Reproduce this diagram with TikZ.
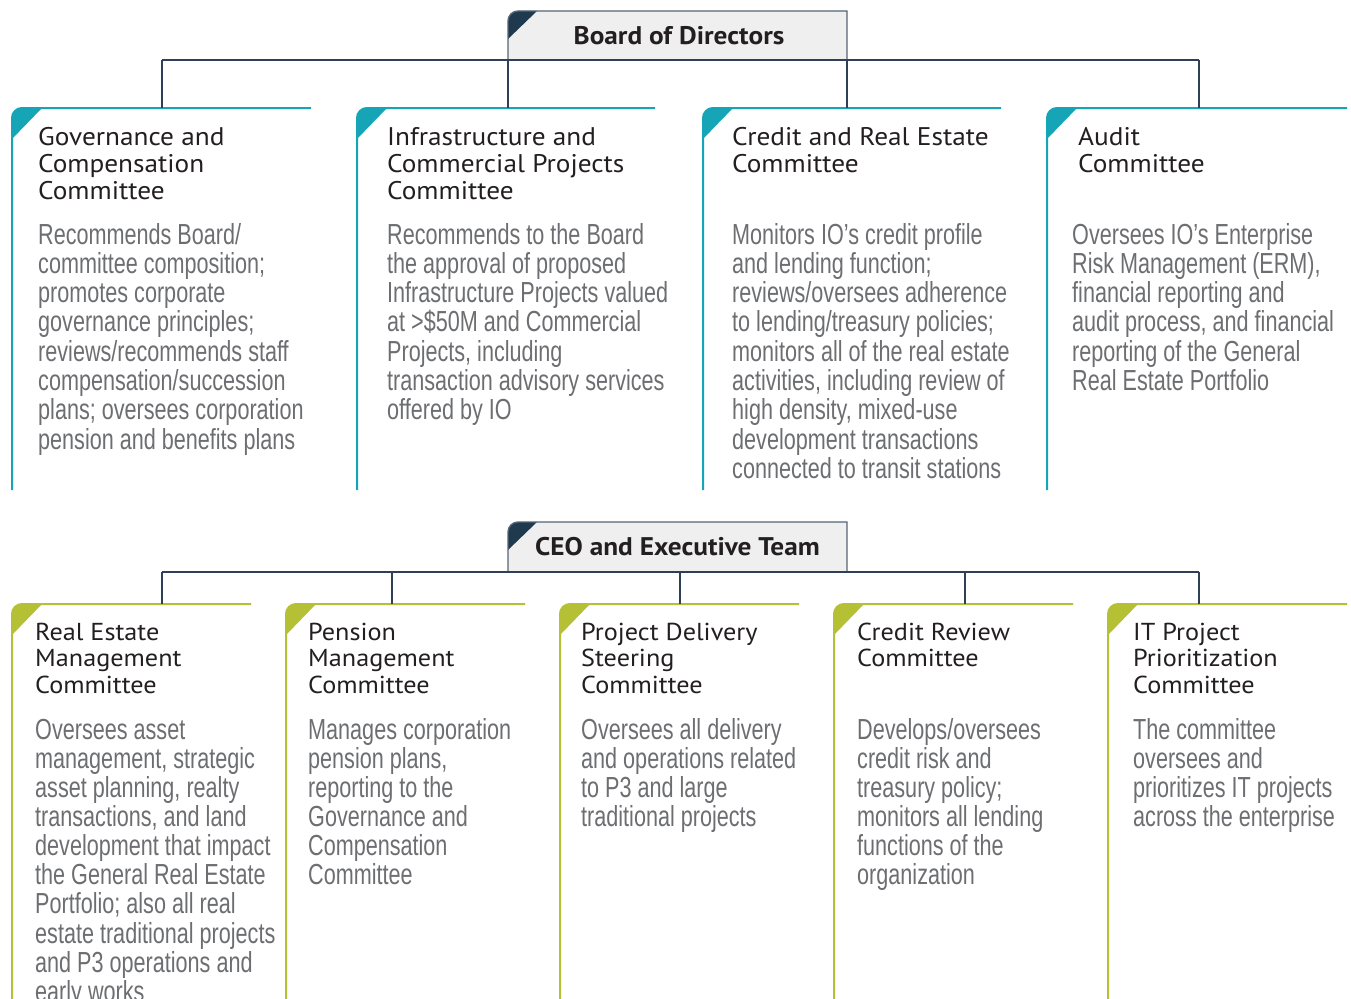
\documentclass[tikz,border=0pt]{standalone}
\usepackage{fontspec}
\newfontfamily\titlefont[FakeStretch=1.07]{PT Sans}
\newfontfamily\bodyfont[FakeStretch=0.745]{Liberation Sans}
\definecolor{tealc}{HTML}{16A5B7}
\definecolor{olivec}{HTML}{B5C034}
\definecolor{navyc}{HTML}{1F3A4F}
\definecolor{connc}{HTML}{2E4057}
\definecolor{hdrline}{HTML}{566676}
\definecolor{hdrfill}{HTML}{EFEFEF}
\definecolor{titlec}{HTML}{231F20}
\definecolor{bodyc}{HTML}{6D6E71}
\newcommand{\mylines}[1]{\parbox[t]{420pt}{\raggedright #1}}
\newcommand{\combox}[5]{%
  \fill[#1] (#2,#3+31) [rounded corners=10] -- (#2,#3) [sharp corners] -- (#2+30,#3) -- cycle;
  \draw[#1, line width=2] (#2,#5) [rounded corners=10] -- (#2,#3) [sharp corners] -- (#4,#3);
}
\newcommand{\hdrbox}[4]{%
  \path[fill=hdrfill] (#1,#4) [rounded corners=10] -- (#1,#2) [sharp corners] -- (#3,#2) -- (#3,#4) -- cycle;
  \fill[navyc] (#1,#2+28) [rounded corners=10] -- (#1,#2) [sharp corners] -- (#1+29,#2) -- cycle;
  \draw[hdrline, line width=1.4] (#1,#4) [rounded corners=10] -- (#1,#2) [sharp corners] -- (#3,#2) -- (#3,#4);
}
\tikzset{
  conn/.style={draw=connc, line width=1.4},
  hdrtext/.style={inner sep=0, text=titlec, font={\titlefont\bfseries\fontsize{25.5}{27}\selectfont}},
  titleA/.style={anchor=base west, inner sep=0, text=titlec, font={\titlefont\fontsize{25.5}{27}\selectfont}},
  titleB/.style={anchor=base west, inner sep=0, text=titlec, font={\titlefont\fontsize{24.5}{26.5}\selectfont}},
  bodyA/.style={anchor=base west, inner sep=0, text=bodyc, font={\bodyfont\fontsize{29}{29.3}\selectfont}},
  bodyB/.style={anchor=base west, inner sep=0, text=bodyc, font={\bodyfont\fontsize{29}{29.15}\selectfont}},
}
\begin{document}
\begin{tikzpicture}[x=1pt,y=-1pt]
\useasboundingbox (0,0) rectangle (1351,998);
\clip (0,0) rectangle (1351,998);
\fill[white] (0,0) rectangle (1351,998);

% ---------- Row 1 ----------
\combox{tealc}{12}{108}{311}{490}
\combox{tealc}{357}{108}{655}{490}
\combox{tealc}{703}{108}{1001}{490}
\combox{tealc}{1047}{108}{1347}{490}

\coordinate (bl) at (162,60);
\coordinate (br) at (1199,60);
\coordinate (govtop) at (162,108);
\coordinate (inftop) at (508,108);
\coordinate (cretop) at (847,108);
\coordinate (audtop) at (1199,108);

\hdrbox{508}{11}{847}{60}
\node[hdrtext] (board) at (679,35.5) {Board of Directors};
\coordinate (boardsw) at (508,60);
\coordinate (boardse) at (847,60);

\draw[conn] (bl) -- (br);
\draw[conn] (bl) -- (govtop);
\draw[conn] (boardsw) -- (inftop);
\draw[conn] (boardse) -- (cretop);
\draw[conn] (br) -- (audtop);

\node[titleA] (gov) at (38,145) {\mylines{Governance and\\Compensation\\Committee}};
\node[bodyA] (govb) at (38,244) {\mylines{Recommends Board/\\committee composition;\\promotes corporate\\governance principles;\\reviews/recommends staff\\compensation/succession\\plans; oversees corporation\\pension and benefits plans}};

\node[titleA] (inf) at (387,145) {\mylines{Infrastructure and\\Commercial Projects\\Committee}};
\node[bodyA] (infb) at (387,244) {\mylines{Recommends to the Board\\the approval of proposed\\Infrastructure Projects valued\\at >\$50M and Commercial\\Projects, including\\transaction advisory services\\offered by IO}};

\node[titleA] (cre) at (732,145) {\mylines{Credit and Real Estate\\Committee}};
\node[bodyA] (creb) at (732,244) {\mylines{Monitors IO’s credit profile\\and lending function;\\reviews/oversees adherence\\to lending/treasury policies;\\monitors all of the real estate\\activities, including review of\\high density, mixed-use\\development transactions\\connected to transit stations}};

\node[titleA] (aud) at (1078,145) {\mylines{Audit\\Committee}};
\node[bodyA] (audb) at (1072,244) {\mylines{Oversees IO’s Enterprise\\Risk Management (ERM),\\financial reporting and\\audit process, and financial\\reporting of the General\\Real Estate Portfolio}};

% ---------- Row 2 ----------
\combox{olivec}{12}{604}{251}{1010}
\combox{olivec}{286}{604}{525}{1010}
\combox{olivec}{560}{604}{799}{1010}
\combox{olivec}{834}{604}{1073}{1010}
\combox{olivec}{1108}{604}{1347}{1010}

\hdrbox{508}{522}{847}{572}
\node[hdrtext] (ceo) at (677.5,546.5) {CEO and Executive Team};

\coordinate (cl) at (162,572);
\coordinate (cr) at (1199,572);
\coordinate (c2) at (392,572);
\coordinate (c3) at (680,572);
\coordinate (c4) at (965,572);
\coordinate (remtop) at (162,604);
\coordinate (pentop) at (392,604);
\coordinate (pdstop) at (680,604);
\coordinate (crctop) at (965,604);
\coordinate (ittop) at (1199,604);

\draw[conn] (cl) -- (cr);
\draw[conn] (cl) -- (remtop);
\draw[conn] (c2) -- (pentop);
\draw[conn] (c3) -- (pdstop);
\draw[conn] (c4) -- (crctop);
\draw[conn] (cr) -- (ittop);

\node[titleB] (rem) at (35,640) {\mylines{Real Estate\\Management\\Committee}};
\node[bodyB] (remb) at (35,739) {\mylines{Oversees asset\\management, strategic\\asset planning, realty\\transactions, and land\\development that impact\\the General Real Estate\\Portfolio; also all real\\estate traditional projects\\and P3 operations and\\early works}};

\node[titleB] (pen) at (308,640) {\mylines{Pension\\Management\\Committee}};
\node[bodyB] (penb) at (308,739) {\mylines{Manages corporation\\pension plans,\\reporting to the\\Governance and\\Compensation\\Committee}};

\node[titleB] (pds) at (581,640) {\mylines{Project Delivery\\Steering\\Committee}};
\node[bodyB] (pdsb) at (581,739) {\mylines{Oversees all delivery\\and operations related\\to P3 and large\\traditional projects}};

\node[titleB] (crc) at (857,640) {\mylines{Credit Review\\Committee}};
\node[bodyB] (crcb) at (857,739) {\mylines{Develops/oversees\\credit risk and\\treasury policy;\\monitors all lending\\functions of the\\organization}};

\node[titleB] (itp) at (1133,640) {\mylines{IT Project\\Prioritization\\Committee}};
\node[bodyB] (itpb) at (1133,739) {\mylines{The committee\\oversees and\\prioritizes IT projects\\across the enterprise}};
\end{tikzpicture}
\end{document}
